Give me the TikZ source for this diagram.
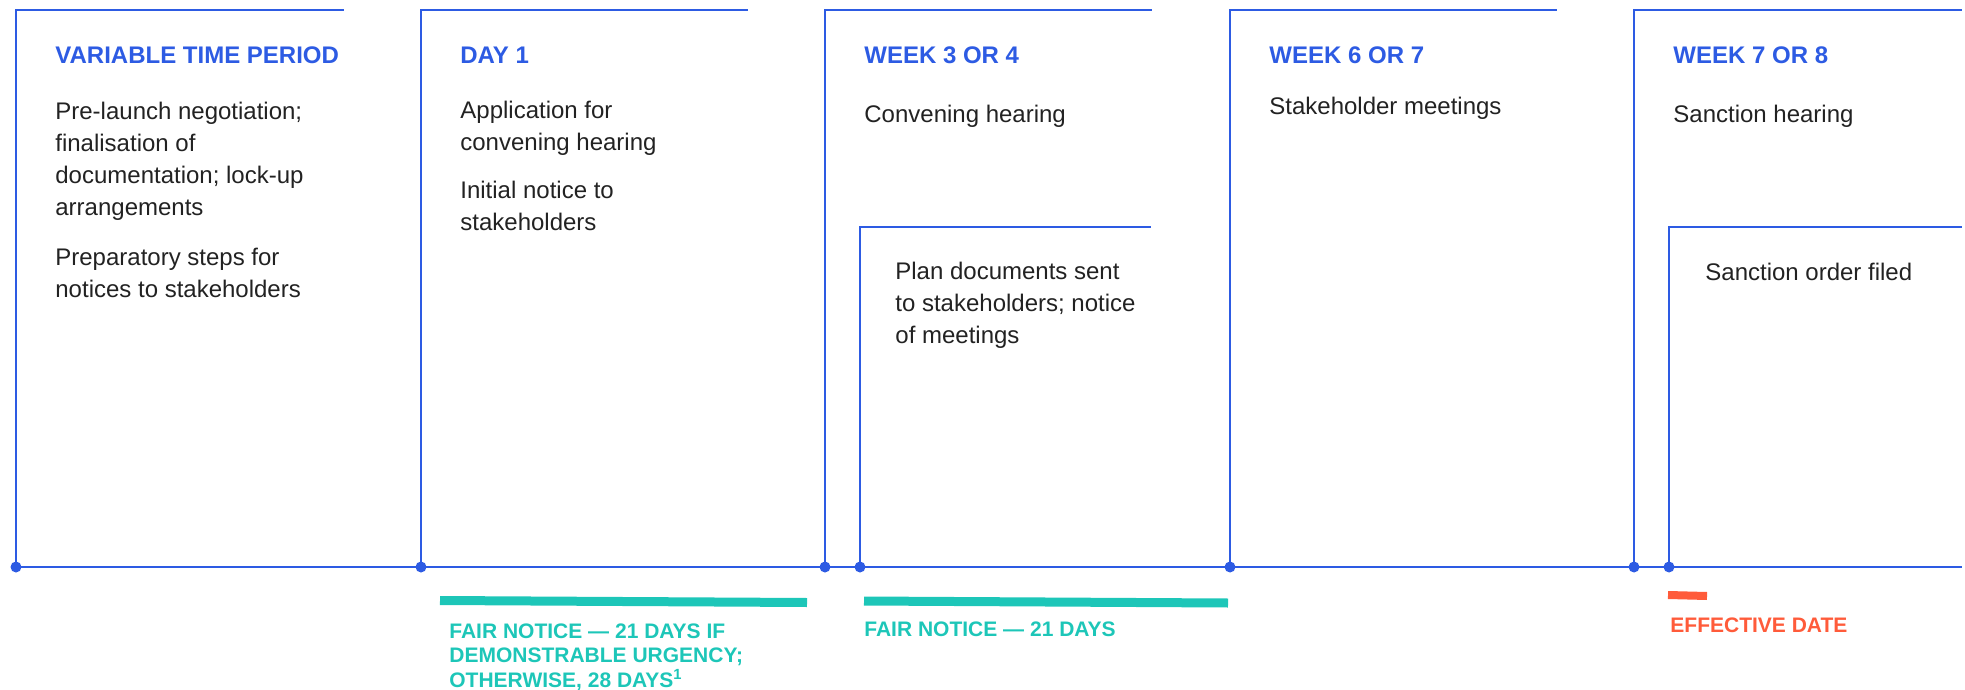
\documentclass[tikz,border=0pt]{standalone}
\usepackage{fontspec}
\setmainfont{Liberation Sans}
\definecolor{lineblue}{HTML}{2D5BE3}
\definecolor{noticegreen}{HTML}{1DC6B8}
\definecolor{effred}{HTML}{FF5B3A}
\definecolor{bodygray}{HTML}{222222}
\begin{document}
\begin{tikzpicture}[x=0.5pt,y=-0.5pt,
        tl/.style={draw=lineblue,line width=1.2pt},
        dot/.style={circle,fill=lineblue,inner sep=0pt,minimum size=5.5pt},
        head/.style={anchor=base west,inner sep=0pt,text=lineblue,font=\fontsize{12}{16}\selectfont\bfseries},
        body/.style={anchor=base west,inner sep=0pt,align=left,text=bodygray,font=\fontsize{12}{16}\selectfont},
        span/.style={anchor=base west,inner sep=0pt,align=left,font=\fontsize{10.5}{12.25}\selectfont\bfseries}]
        \useasboundingbox (0,0) rectangle (1965,690);

        % Timeline points
        \node[dot] (d1) at (16,567) {};
        \node[dot] (d2) at (421,567) {};
        \node[dot] (d3) at (825,567) {};
        \node[dot] (d3b) at (860,567) {};
        \node[dot] (d4) at (1230,567) {};
        \node[dot] (d5) at (1634,567) {};
        \node[dot] (d5b) at (1669,567) {};
        \coordinate (tend) at (1962,567);
        \draw[tl] (d1.center) -- (tend);

        % Stage frames
        \draw[tl] (d1.center) -- (16,10) -- (344,10);
        \draw[tl] (d2.center) -- (421,10) -- (748,10);
        \draw[tl] (d3.center) -- (825,10) -- (1152,10);
        \draw[tl] (d4.center) -- (1230,10) -- (1557,10);
        \draw[tl] (d5.center) -- (1634,10) -- (1962,10);

        % Inner frames
        \draw[tl] (d3b.center) -- (860,227) -- (1151,227);
        \draw[tl] (d5b.center) -- (1669,227) -- (1962,227);

        % Stage headings
        \node[head] (h1) at (55,64) {VARIABLE TIME PERIOD};
        \node[head] (h2) at (460,64) {DAY 1};
        \node[head] (h3) at (864,64) {WEEK 3 OR 4};
        \node[head] (h4) at (1269,64) {WEEK 6 OR 7};
        \node[head] (h5) at (1673,64) {WEEK 7 OR 8};

        % Stage contents (anchored at the last line)
        \node[body] (b1) at (55,297) {Pre-launch negotiation;\\ finalisation of\\ documentation; lock-up\\ arrangements\\[9pt] Preparatory steps for\\ notices to stakeholders};
        \node[body] (b2) at (460,230) {Application for\\ convening hearing\\[8pt] Initial notice to\\ stakeholders};
        \node[body] (b3) at (864,123) {Convening hearing};
        \node[body] (b4) at (1269,115) {Stakeholder meetings};
        \node[body] (b5) at (1673,123) {Sanction hearing};
        \node[body] (b3b) at (895,343) {Plan documents sent\\ to stakeholders; notice\\ of meetings};
        \node[body] (b5b) at (1705,280) {Sanction order filed};

        % Notice periods
        \draw[noticegreen,line width=4.5pt] (440,600.5) -- (807,602.5);
        \draw[noticegreen,line width=4.5pt] (864,601) -- (1228,603);
        \draw[effred,line width=4pt] (1668,595) -- (1707,596);
        \node[span,text=noticegreen] (n1) at (449,687) {FAIR NOTICE --- 21 DAYS IF\\ DEMONSTRABLE URGENCY;\\ OTHERWISE, 28 DAYS\textsuperscript{1}};
        \node[span,text=noticegreen] (n2) at (864,636) {FAIR NOTICE --- 21 DAYS};
        \node[span,text=effred] (n3) at (1670,632) {EFFECTIVE DATE};
    \end{tikzpicture}
\end{document}
